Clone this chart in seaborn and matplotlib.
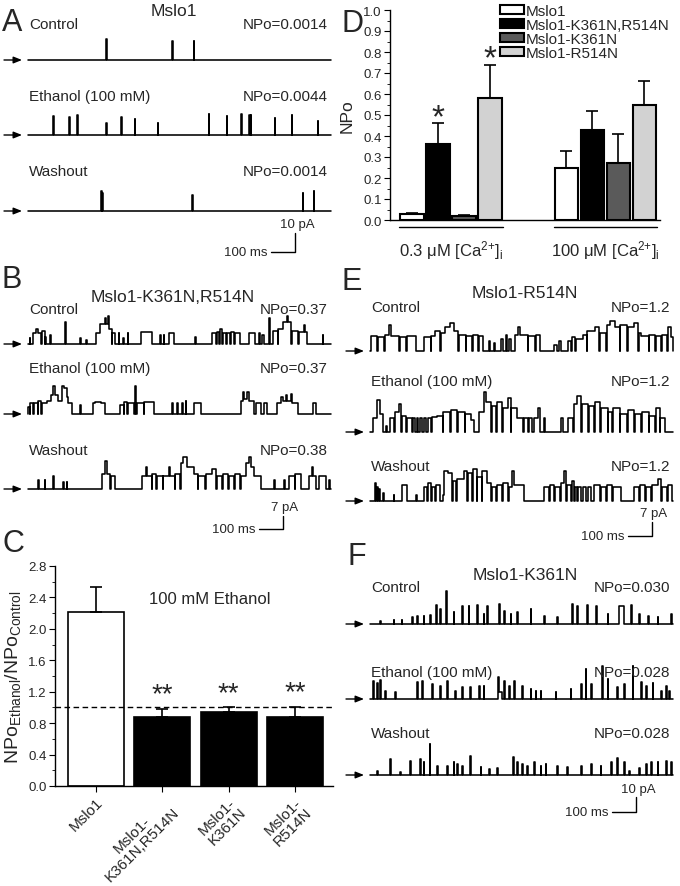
import numpy as np
import pandas as pd
import seaborn as sns
import matplotlib.pyplot as plt
from matplotlib.container import BarContainer
from matplotlib.ticker import MultipleLocator, FormatStrFormatter

sns.set_style('white')
plt.rcParams['font.family'] = ['Liberation Sans', 'DejaVu Sans']
plt.rcParams['mathtext.fontset'] = 'custom'
plt.rcParams['mathtext.rm'] = 'Liberation Sans'
plt.rcParams['mathtext.it'] = 'Liberation Sans:italic'
plt.rcParams['mathtext.bf'] = 'Liberation Sans:bold'

W, H = 680, 887
T_TOTAL = 1250  # ms shown in each trace

# ---- A: Mslo1, brief openings (time ms, amplitude pA)
a_ctrl_t = [323, 596, 683]
a_ctrl_amp = [11, 10, 10]
a_eth_t = [105, 171, 204, 323, 385, 440, 535, 745, 820, 880, 912, 919, 1018, 1088, 1195]
a_eth_amp = [9.8, 9.3, 10.5, 6.3, 9.5, 8.4, 6.3, 11, 10, 11, 10.5, 10.5, 9, 10.5, 7.4]
a_wash_t = [301, 305, 678, 1133, 1178]
a_wash_amp = [10.5, 9.5, 8.4, 9.5, 10.5]

# ---- B: Mslo1-K361N,R514N, open segments (start ms, end ms, pA)
b_ctrl = [(8, 10, 3), (22, 35, 6), (35, 40, 8), (40, 55, 6), (58, 70, 7), (72, 75, 4), (91, 93, 5),
          (153, 156, 12), (215, 217, 3), (240, 242, 2), (281, 298, 6), (298, 318, 11), (318, 322, 14),
          (322, 332, 11), (332, 336, 15), (336, 345, 8), (348, 360, 6), (374, 377, 6), (392, 394, 3),
          (411, 414, 6), (466, 512, 6.5), (546, 549, 5), (560, 563, 5), (581, 602, 6), (691, 693, 4),
          (760, 775, 6), (778, 790, 6.5), (792, 800, 8), (803, 818, 6), (822, 835, 6), (838, 850, 6.5),
          (853, 875, 6), (912, 936, 6), (954, 958, 6), (966, 974, 5), (995, 998, 14), (1009, 1030, 7),
          (1033, 1054, 8), (1054, 1070, 12), (1070, 1074, 15), (1074, 1087, 12), (1091, 1112, 7),
          (1118, 1140, 6.5), (1140, 1143, 10), (1143, 1150, 6.5), (1216, 1219, 5)]
b_eth = [(1, 8, 4), (10, 22, 6), (24, 40, 6), (43, 55, 7), (58, 77, 6), (77, 95, 7), (95, 105, 10),
         (105, 112, 15), (112, 125, 10), (125, 139, 7), (139, 150, 15), (150, 160, 14), (160, 167, 9),
         (167, 181, 6), (215, 218, 5), (268, 275, 6), (275, 300, 6.5), (300, 319, 6), (381, 395, 5),
         (397, 410, 6.5), (412, 436, 6), (440, 447, 15), (450, 477, 6), (480, 519, 6.5), (595, 598, 6),
         (615, 618, 6), (636, 639, 6), (650, 653, 7), (684, 712, 6), (878, 885, 7), (885, 890, 12),
         (890, 905, 8), (905, 910, 12), (910, 933, 7), (940, 960, 6), (974, 988, 6), (1029, 1045, 6),
         (1045, 1050, 9), (1050, 1065, 7), (1065, 1070, 10), (1070, 1085, 7), (1085, 1090, 11),
         (1090, 1112, 6), (1174, 1188, 6)]
b_wash = [(43, 45, 5), (70, 72, 5), (105, 108, 7), (146, 148, 4), (160, 162, 4), (305, 318, 8),
          (318, 326, 15), (326, 340, 8), (343, 360, 7), (470, 485, 7), (485, 490, 12), (490, 510, 7),
          (513, 530, 8), (533, 555, 7), (558, 580, 7), (580, 586, 12), (586, 605, 7), (608, 629, 8),
          (632, 640, 14), (640, 655, 17), (655, 684, 12), (684, 700, 8), (703, 730, 7), (733, 760, 8),
          (760, 775, 11), (778, 800, 7), (803, 825, 8), (828, 850, 7), (853, 875, 8), (878, 898, 7),
          (898, 912, 14), (912, 920, 17), (920, 933, 12), (933, 960, 7), (1016, 1019, 5), (1057, 1060, 5),
          (1078, 1100, 7), (1103, 1126, 8), (1160, 1170, 7), (1170, 1176, 12), (1176, 1188, 7),
          (1202, 1230, 7), (1243, 1246, 5)]

# ---- E: Mslo1-R514N
e_ctrl = [(4, 30, 7.5), (33, 58, 7), (61, 80, 8), (80, 86, 13), (86, 120, 7.5), (124, 150, 7),
          (153, 190, 7.5), (222, 250, 7), (253, 270, 7.5), (270, 290, 10), (293, 310, 9), (310, 330, 12),
          (330, 345, 14), (345, 365, 10), (368, 395, 8), (398, 420, 7.5), (423, 445, 8), (448, 468, 7.5),
          (490, 493, 5), (512, 515, 4), (540, 548, 6), (562, 566, 8), (575, 580, 6), (600, 612, 8),
          (612, 618, 12), (618, 650, 8), (653, 680, 7.5), (683, 702, 8), (760, 770, 3), (780, 790, 5),
          (815, 828, 5), (832, 845, 7), (850, 880, 6), (880, 895, 8), (897, 930, 10), (930, 945, 12),
          (948, 975, 9), (978, 990, 13), (990, 1010, 15), (1010, 1030, 12), (1033, 1060, 13),
          (1063, 1090, 12), (1090, 1105, 14), (1108, 1120, 9), (1120, 1150, 7.5), (1153, 1175, 8),
          (1178, 1200, 7.5), (1203, 1225, 8), (1228, 1240, 12), (1240, 1248, 7)]
e_eth = [(14, 30, 7), (30, 42, 16), (42, 55, 9), (65, 70, 3), (83, 100, 7), (103, 120, 10), (120, 128, 14),
         (131, 150, 8), (153, 173, 7), (176, 185, 7), (192, 200, 7), (207, 215, 7), (222, 232, 7),
         (240, 250, 7), (255, 276, 7.5), (276, 300, 8), (303, 330, 10), (333, 360, 11), (363, 390, 10),
         (393, 415, 9), (415, 428, 6), (450, 470, 10), (470, 480, 20), (480, 500, 15), (503, 520, 13),
         (523, 545, 15), (548, 570, 12), (570, 580, 17), (583, 607, 12), (607, 630, 7), (634, 650, 7),
         (655, 670, 7), (675, 695, 7), (695, 703, 12), (716, 720, 7), (790, 795, 7), (815, 838, 7),
         (842, 855, 14), (855, 870, 18), (873, 900, 14), (903, 925, 13), (928, 950, 15), (953, 980, 12),
         (983, 1000, 10), (1003, 1030, 12), (1033, 1060, 9), (1063, 1090, 11), (1093, 1120, 9),
         (1123, 1150, 10), (1153, 1175, 8), (1178, 1195, 12), (1198, 1215, 7)]
e_wash = [(21, 26, 9), (30, 35, 7), (38, 42, 6), (55, 58, 4), (97, 100, 3), (131, 152, 8), (190, 193, 3),
          (221, 235, 7), (238, 252, 9), (255, 268, 7), (271, 290, 8), (300, 304, 3), (304, 320, 15),
          (320, 340, 14), (343, 355, 10), (358, 387, 11), (387, 400, 15), (403, 420, 14), (423, 440, 16),
          (443, 460, 12), (463, 483, 15), (483, 500, 9), (503, 520, 7), (523, 545, 8), (548, 570, 9),
          (573, 585, 7), (585, 594, 15), (594, 635, 8), (718, 740, 7), (743, 760, 8), (763, 785, 7),
          (788, 800, 9), (800, 810, 15), (813, 830, 8), (833, 842, 10), (845, 855, 7), (860, 870, 7),
          (878, 890, 7), (898, 910, 7), (925, 950, 8), (953, 975, 7), (978, 1000, 8), (1003, 1035, 7),
          (1090, 1110, 7), (1113, 1135, 8), (1138, 1160, 7), (1163, 1190, 8), (1190, 1200, 11),
          (1203, 1225, 7), (1228, 1245, 8)]

# ---- F: Mslo1-K361N, brief openings
f_ctrl_t = [42, 97, 131, 173, 193, 221, 249, 273, 290, 315, 345, 380, 407, 442, 469, 483, 532, 552, 580,
            607, 663, 718, 773, 835, 856, 897, 932, 980, 1077, 1111, 1146, 1187, 1242]
f_ctrl_amp = [2, 2.5, 3, 4.4, 5.5, 5.5, 6, 12.7, 10, 22, 7.8, 12.2, 12, 12.7, 6.7, 12.2, 13.3, 8.9, 6.7,
              7.8, 10, 5.5, 4.4, 13.3, 12.2, 12.7, 12.2, 6.7, 12.7, 6.7, 5.5, 5, 6.7]
f_ctrl_burst = [(1028, 1049, 12)]
f_eth_t = [14, 28, 42, 62, 104, 193, 214, 256, 290, 318, 352, 380, 414, 449, 469, 552, 573, 594, 628,
           663, 683, 704, 766, 828, 870, 890, 911, 959, 980, 1021, 1049, 1084, 1118, 1139, 1166, 1201,
           1222, 1235]
f_eth_amp = [12.2, 11, 13, 5.5, 4.9, 11.5, 12.2, 10, 8.9, 12.2, 5.5, 7.8, 7.8, 8.9, 8.9, 12.2, 8.9, 12.2,
             8.9, 6.7, 5.5, 5.5, 4.9, 6.7, 10, 20, 10, 22, 13.3, 7.8, 10, 22, 11.5, 8.9, 11, 5.5, 8.9, 5.5]
f_eth_burst = [(527, 532, 14.4), (532, 546, 5)]
f_wash_t = [28, 83, 124, 166, 207, 221, 246, 276, 318, 345, 359, 380, 414, 456, 490, 525, 591, 607, 628,
            649, 676, 704, 725, 773, 814, 870, 911, 952, 994, 1021, 1049, 1070, 1111, 1139, 1159, 1187,
            1222, 1242]
f_wash_amp = [2.9, 10.7, 2.2, 9.6, 10.7, 8.4, 20.7, 6.2, 6.2, 8.4, 7.3, 6.2, 12.9, 5.1, 4, 4.4, 11.8,
              8.4, 7.3, 6.2, 8.4, 6.2, 7.3, 6.2, 5.1, 6.2, 7.3, 6.2, 8.4, 11.1, 8.4, 2.9, 4.4, 7.3, 8.4,
              8.4, 9.6, 8.4]

# ---- C: NPo ethanol / NPo control
c_names = ['Mslo1', 'Mslo1-\nK361N,R514N', 'Mslo1-\nK361N', 'Mslo1-\nR514N']
c_means = [2.22, 0.88, 0.94, 0.88]
c_err = [0.31, 0.10, 0.06, 0.13]
c_colors = ['white', 'black', 'black', 'black']

# ---- D: NPo at two [Ca2+]i
d_conds = ['0.3 μM [Ca$^{2{+}}$]$_\\mathregular{i}$', '100 μM [Ca$^{2{+}}$]$_\\mathregular{i}$']
d_channels = ['Mslo1', 'Mslo1-K361N,R514N', 'Mslo1-K361N', 'Mslo1-R514N']
d_colors = ['white', 'black', '#5a5a5a', '#d2d2d2']
d_low = [0.03, 0.36, 0.02, 0.58]
d_low_err = [0.004, 0.10, 0.006, 0.16]
d_high = [0.25, 0.43, 0.27, 0.55]
d_high_err = [0.08, 0.09, 0.14, 0.11]

fig = plt.figure(figsize=(W / 100, H / 100), dpi=100)


def box(l, t, w, h):
    return fig.add_axes([l / W, 1 - (t + h) / H, w / W, h / H])


def txt(x, y, s, **kw):
    fig.text(x / W, 1 - y / H, s, **kw)


def spikes(times, amps, dur=3):
    return [(t, t + dur, a) for t, a in zip(times, amps)]


def build_trace(segs):
    segs = sorted(segs)
    t, y = [0.0], [0.0]
    for i, (t0, t1, amp) in enumerate(segs):
        if i == 0 or segs[i - 1][1] != t0:
            t.append(t0); y.append(0.0)
        t += [t0, t1]; y += [amp, amp]
        if i == len(segs) - 1 or segs[i + 1][0] != t1:
            t.append(t1); y.append(0.0)
    t.append(T_TOTAL); y.append(0.0)
    return np.array(t, float), np.array(y, float)


panels = [
    dict(letter='A', letter_xy=(2, 31), title='Mslo1', title_xy=(174, 12), left=28, ppp=1.9,
         base=[61, 136, 212], label_y=[25, 97, 172], npo=['NPo=0.0014', 'NPo=0.0044', 'NPo=0.0014'],
         traces=[spikes(a_ctrl_t, a_ctrl_amp), spikes(a_eth_t, a_eth_amp), spikes(a_wash_t, a_wash_amp)],
         scale=(1101, -21.6, 10, '10 pA')),
    dict(letter='B', letter_xy=(2, 288), title='Mslo1-K361N,R514N', title_xy=(173, 297), left=28, ppp=1.86,
         base=[345, 415, 490], label_y=[310, 369, 451], npo=['NPo=0.37', 'NPo=0.37', 'NPo=0.38'],
         traces=[b_ctrl, b_eth, b_wash], scale=(1052, -21.5, 7, '7 pA')),
    dict(letter='E', letter_xy=(342, 290), title='Mslo1-R514N', title_xy=(525, 294), left=370, ppp=2.0,
         base=[352, 433, 502], label_y=[308, 382, 467], npo=['NPo=1.2', 'NPo=1.2', 'NPo=1.2'],
         traces=[e_ctrl, e_eth, e_wash], scale=(1163, -17.5, 7, '7 pA')),
    dict(letter='F', letter_xy=(348, 565), title='Mslo1-K361N', title_xy=(525, 576), left=370, ppp=1.5,
         base=[625, 700, 776], label_y=[588, 673, 734], npo=['NPo=0.030', 'NPo=0.028', 'NPo=0.028'],
         traces=[spikes(f_ctrl_t, f_ctrl_amp) + f_ctrl_burst, spikes(f_eth_t, f_eth_amp) + f_eth_burst,
                 spikes(f_wash_t, f_wash_amp)],
         scale=(1097, -24.7, 10, '10 pA')),
]
labels = ['Control', 'Ethanol (100 mM)', 'Washout']

for p in panels:
    txt(p['letter_xy'][0], p['letter_xy'][1], p['letter'], fontsize=22, ha='left', va='baseline')
    txt(p['title_xy'][0], p['title_xy'][1], p['title'], fontsize=12.5, ha='center', va='center')
    for k in range(3):
        yb = p['base'][k]
        ax = box(p['left'], yb - 45, 303, 50)
        tx, ty = build_trace(p['traces'][k])
        sns.lineplot(x=tx, y=ty, ax=ax, estimator=None, sort=False, color='black', lw=1.15)
        for ln in ax.lines:
            ln.set_clip_on(False)
        ax.set_xlim(0, T_TOTAL)
        ax.set_ylim(-5 / p['ppp'], 45 / p['ppp'])
        ax.axis('off')
        ax.annotate('', xy=(p['left'] - 6, H - yb), xytext=(p['left'] - 24, H - yb),
                    xycoords='figure pixels', textcoords='figure pixels',
                    arrowprops=dict(arrowstyle='-|>,head_length=0.5,head_width=0.2', lw=1, color='black',
                                    shrinkA=0, shrinkB=0))
        txt(p['left'] + 1, p['label_y'][k], labels[k], fontsize=11, ha='left', va='center')
        txt(p['left'] + 300, p['label_y'][k], p['npo'][k], fontsize=11, ha='right', va='center')
    # scale bar in the washout axes
    xe, yb0, amp, lab = p['scale']
    ax.plot([xe - 100, xe, xe], [yb0, yb0, yb0 + amp], color='black', lw=1, clip_on=False)
    ax.text(xe + 8, yb0 + amp + 1.5, lab, fontsize=9.5, ha='center', va='bottom')
    ax.text(xe - 115, yb0, '100 ms', fontsize=9.5, ha='right', va='center')

# ---- panel C
axC = box(55, 567, 278, 220)
sns.barplot(x=c_names, y=c_means, hue=c_names, palette=c_colors, legend=False, edgecolor='black',
            linewidth=1.2, width=0.84, errorbar=None, ax=axC)
axC.errorbar(x=range(len(c_means)), y=c_means, yerr=[np.zeros(len(c_err)), c_err], fmt='none',
             ecolor='black', elinewidth=1.2, capsize=4, capthick=1.2)
axC.axhline(1.0, ls=(0, (4, 2.5)), color='black', lw=1)
axC.set_xlim(-0.61, 3.57)
axC.set_ylim(0, 2.8)
axC.yaxis.set_major_locator(MultipleLocator(0.4))
axC.yaxis.set_minor_locator(MultipleLocator(0.2))
axC.yaxis.set_major_formatter(FormatStrFormatter('%.1f'))
sns.despine(ax=axC)
axC.tick_params(axis='both', which='both', direction='out', left=True, bottom=True, color='black')
axC.tick_params(axis='y', which='major', length=4, labelsize=9.5, pad=2)
axC.tick_params(axis='y', which='minor', length=2)
axC.tick_params(axis='x', length=4, labelsize=11, pad=2)
for lbl in axC.get_xticklabels():
    lbl.set_rotation(45)
    lbl.set_ha('right')
    lbl.set_rotation_mode('anchor')
    lbl.set_multialignment('center')
    lbl.set_linespacing(1.0)
for sp in axC.spines.values():
    sp.set_color('black')
    sp.set_linewidth(1)
axC.set_ylabel(r'$\mathregular{NPo_{Ethanol}/NPo_{Control}}$', fontsize=14, labelpad=4)
axC.text(1.71, 2.38, '100 mM Ethanol', fontsize=12, ha='center', va='center')
for i in range(1, 4):
    axC.text(i, c_means[i] + c_err[i] + 0.02, '**', fontsize=20, ha='center', va='bottom')
txt(3, 552, 'C', fontsize=22, ha='left', va='baseline')

# ---- panel D
df = pd.DataFrame({'cond': np.repeat(d_conds, len(d_channels)),
                   'channel': d_channels * 2,
                   'npo': d_low + d_high})
errs = [d_low_err, d_high_err]
axD = box(390, 11, 270, 210)
sns.barplot(data=df, x='cond', y='npo', hue='channel', hue_order=d_channels,
            palette=dict(zip(d_channels, d_colors)), edgecolor='black', linewidth=1.5,
            width=0.673, gap=0.1, errorbar=None, ax=axD)
bar_sets = [c for c in axD.containers if isinstance(c, BarContainer)]
for ci, cont in enumerate(bar_sets):
    for j, bar in enumerate(cont.patches):
        xc = bar.get_x() + bar.get_width() / 2
        axD.errorbar(xc, bar.get_height(), yerr=[[0], [errs[j][ci]]], fmt='none', ecolor='black',
                     elinewidth=1.2, capsize=4, capthick=1.2)
# significance stars on the 0.3 uM group
for ci in (1, 3):
    bar = bar_sets[ci].patches[0]
    axD.text(bar.get_x() + bar.get_width() / 2, bar.get_height() + d_low_err[ci] - 0.045, '*',
             fontsize=24, ha='center', va='bottom')
axD.set_xlim(-0.395, 1.353)
axD.set_ylim(0, 1.0)
axD.yaxis.set_major_locator(MultipleLocator(0.1))
axD.yaxis.set_minor_locator(MultipleLocator(0.05))
axD.yaxis.set_major_formatter(FormatStrFormatter('%.1f'))
sns.despine(ax=axD)
for sp in axD.spines.values():
    sp.set_color('black')
    sp.set_linewidth(1)
axD.tick_params(axis='y', which='both', direction='out', left=True, color='black')
axD.tick_params(axis='y', which='major', length=4, labelsize=9.5, pad=2)
axD.tick_params(axis='y', which='minor', length=2)
axD.tick_params(axis='x', length=0, labelsize=12, pad=13)
axD.set_xlabel('')
axD.set_ylabel('NPo', fontsize=12.5, labelpad=6)
for g in range(2):
    axD.plot([g - 0.335, g + 0.335], [-0.033, -0.033], color='black', lw=1, clip_on=False)
axD.legend(bar_sets, d_channels, loc='upper left', bbox_to_anchor=(500 / W, 1 - 5 / H),
           bbox_transform=fig.transFigure, frameon=False, fontsize=11, handlelength=1.6,
           handleheight=0.6, handletextpad=0.1, labelspacing=0.0, borderpad=0, borderaxespad=0)
txt(341, 32, 'D', fontsize=22, ha='left', va='baseline')

fig.savefig('out.png', dpi=100)
